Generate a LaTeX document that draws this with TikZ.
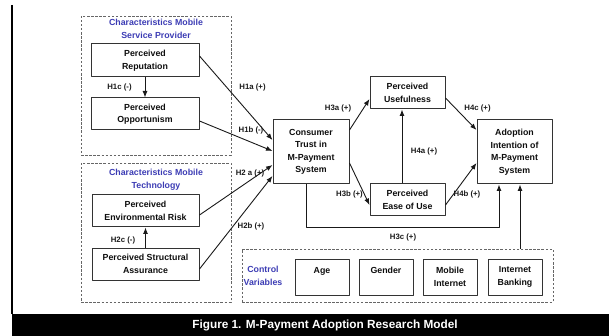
\documentclass[tikz,border=0pt]{standalone}
\usepackage{fontspec}
\setmainfont{Liberation Sans}
\usetikzlibrary{arrows.meta}
\definecolor{titleblue}{RGB}{60,60,180}
\begin{document}
\begin{tikzpicture}[x=1pt, y=-1pt, line join=round, >={Latex[length=6.5pt,width=5pt]},
	font=\bfseries\fontsize{8.8}{12.5}\selectfont,
	box/.style={draw=black!80, line width=1pt, align=center, inner sep=0pt, text=black!95},
	group/.style={draw=black!60, dash pattern=on 2.5pt off 1.6pt, line width=0.9pt},
	head/.style={text=titleblue, align=center},
	hyp/.style={font=\bfseries\fontsize{7.8}{9}\selectfont, text=black!90},
	link/.style={->, line width=0.9pt, draw=black!90}]
	\useasboundingbox (0,0) rectangle (609,336);
	% frame and caption
	\draw[line width=1.2pt] (12,5) -- (12,314);
	\fill[black] (12,314) rectangle (609,336);
	\node[white, font=\bfseries\fontsize{11.8}{14}\selectfont] (caption) at (325,325.5) {Figure 1. M-Payment Adoption Research Model};
	% groups
	\node[group, minimum width=150, minimum height=139] (provider) at (156,85.5) {};
	\node[group, minimum width=150, minimum height=139] (technology) at (156,232.5) {};
	\node[group, minimum width=311, minimum height=53] (control) at (397.5,275.5) {};
	\node[head] (provhead) at (156,29) {Characteristics Mobile\\Service Provider};
	\node[head] (techhead) at (156,179.5) {Characteristics Mobile\\Technology};
	\node[head] (ctrlhead) at (263,276) {Control\\Variables};
	% constructs
	\node[box, minimum width=108, minimum height=33] (reputation) at (145,60.5) {Perceived\\Reputation};
	\node[box, minimum width=108, minimum height=32] (opportunism) at (145,114) {Perceived\\Opportunism};
	\node[box, minimum width=107, minimum height=32] (envrisk) at (145.5,211) {Perceived\\Environmental Risk};
	\node[box, minimum width=107, minimum height=32] (assurance) at (145.5,264) {Perceived Structural\\Assurance};
	\node[box, minimum width=76, minimum height=64] (trust) at (311,152) {Consumer\\Trust in\\M-Payment\\System};
	\node[box, minimum width=75, minimum height=32] (useful) at (407.5,93) {Perceived\\Usefulness};
	\node[box, minimum width=75, minimum height=32] (ease) at (407.5,200) {Perceived\\Ease of Use};
	\node[box, minimum width=75, minimum height=64] (adoption) at (514.5,152) {Adoption\\Intention of\\M-Payment\\System};
	\foreach \n/\t/\x in {age/Age\\~/322, gender/Gender\\~/386, mobile/Mobile\\Internet/450, banking/Internet\\Banking/515}
		\node[box, minimum width=54, minimum height=36] (\n) at (\x,277) {\t};
	% hypotheses
	\draw[link] (reputation) -- (opportunism);
	\draw[link] (assurance) -- (envrisk);
	\draw[link] ([yshift=4.5pt]reputation.east) -- ([yshift=12pt]trust.west);
	\draw[link] ([yshift=-7pt]opportunism.east) -- ([yshift=1pt]trust.west);
	\draw[link] ([yshift=-4pt]envrisk.east) -- ([yshift=-13pt]trust.west);
	\draw[link] ([yshift=-5pt]assurance.east) -- ([yshift=-24pt]trust.west);
	\draw[link] ([yshift=22pt]trust.east) -- ([yshift=-6pt]useful.west);
	\draw[link] ([yshift=-11pt]trust.east) -- ([yshift=-5pt]ease.west);
	\draw[link] ([xshift=-5.5pt]ease.north) -- ([xshift=-5.5pt]useful.south);
	\draw[link] ([yshift=-5pt]useful.east) -- ([yshift=22pt]adoption.west);
	\draw[link] ([yshift=-5pt]ease.east) -- ([yshift=-11pt]adoption.west);
	\draw[link] ([xshift=-5pt]trust.south) -- ++(0,43) -| ([xshift=-15.5pt]adoption.south);
	\draw[link] ([xshift=122.5pt]control.north) -- ([xshift=5.5pt]adoption.south);
	\foreach \n/\t/\x/\y in {h1c/H1c (-)/119.5/87, h1a/H1a (+)/252.5/87, h1b/H1b (-)/251/130,
		h2a/H2 a (+)/250/173, h2b/H2b (+)/251/226, h2c/H2c (-)/123/240,
		h3a/H3a (+)/338/108, h3b/H3b (+)/349.5/194, h4a/H4a (+)/424/151,
		h4c/H4c (+)/477.5/108, h4b/H4b (+)/467/194, h3c/H3c (+)/403/237}
		\node[hyp] (\n) at (\x,\y) {\t};
\end{tikzpicture}
\end{document}
